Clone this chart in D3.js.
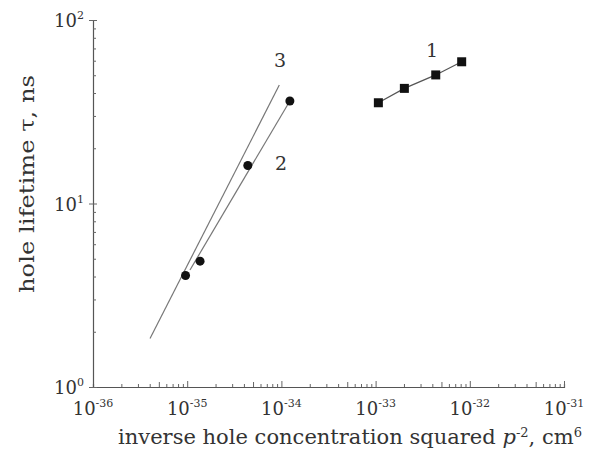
<!DOCTYPE html>
<html>
<head>
<meta charset="utf-8">
<script src="https://cdn.jsdelivr.net/npm/d3@7"></script>
<style>
  body { margin: 0; background: #fff; }
  text { font-family: "DejaVu Serif", "Liberation Serif", serif; fill: #333; }
</style>
</head>
<body>
<script>
// curva 1: cuadrados
const p1_x = [1.07e-33, 2.02e-33, 4.35e-33, 8.2e-33]
const p1_tau = [35.4, 42.4, 50.2, 59.2]
// curva 2: circulos
const p2_x = [9.6e-36, 1.37e-35, 4.4e-35, 1.23e-34]
const p2_tau = [4.05, 4.85, 16.1, 36.2]
// recta 2 (ajuste)
const fit2_x = [1.07e-35, 1.23e-34]
const fit2_tau = [4.34, 36.2]
// recta 3
const fit3_x = [4.03e-36, 9.5e-35]
const fit3_tau = [1.84, 44.2]

const xDecadas = [-36, -35, -34, -33, -32, -31]
const yDecadas = [0, 1, 2]

const width = 593, height = 450

var svg = d3.select("body").append("svg")
    .attr("width", width)
    .attr("height", height)

var x = d3.scaleLog().domain([1e-36, 1e-31]).range([93, 564])
var y = d3.scaleLog().domain([1, 100]).range([387, 20])

// ticks menores
var xTicks = []
for (var k = -36; k < -31; k++) for (var m = 1; m < 10; m++) xTicks.push(m * Math.pow(10, k))
xTicks.push(1e-31)
var yTicks = []
for (var k = 0; k < 2; k++) for (var m = 1; m < 10; m++) yTicks.push(m * Math.pow(10, k))
yTicks.push(100)

function esMayor(v) {
    var l = Math.log10(v)
    return Math.abs(l - Math.round(l)) < 1e-6
}

// EJE X
var gx = svg.append("g")
    .attr("transform", "translate(0," + y(1) + ")")
    .call(d3.axisBottom(x).tickValues(xTicks).tickSize(-3).tickFormat(""))
gx.select(".domain").attr("stroke", "#555").attr("stroke-width", 1.2)
gx.selectAll(".tick line").attr("stroke", "#666")
    .attr("y2", d => esMayor(d) ? -6 : (Math.round(d / Math.pow(10, Math.floor(Math.log10(d) + 1e-9))) == 5 ? -5 : -3))

// EJE Y
var gy = svg.append("g")
    .attr("transform", "translate(" + x(1e-36) + ",0)")
    .call(d3.axisLeft(y).tickValues(yTicks).tickSize(-3).tickFormat(""))
gy.select(".domain").attr("stroke", "#555").attr("stroke-width", 1.2)
gy.selectAll(".tick line").attr("stroke", "#666")
    .attr("x1", d => esMayor(d) ? -4 : 0)
    .attr("x2", d => esMayor(d) ? 4 : 3)

// etiquetas de potencias
function potencia(g, px, py, exp, anchor) {
    var t = g.append("text")
        .attr("x", px).attr("y", py)
        .attr("text-anchor", anchor)
        .style("font-size", "18px")
    t.append("tspan").text("10")
    t.append("tspan").text(exp).attr("dy", -8).style("font-size", "11px")
}
xDecadas.forEach(function(e) {
    potencia(svg, x(Math.pow(10, e)), 415, "-" + Math.abs(e), "middle")
})
yDecadas.forEach(function(e) {
    potencia(svg, 84, y(Math.pow(10, e)) + 7, String(e), "end")
})

// titulos de ejes
var tx = svg.append("text")
    .attr("x", 118).attr("y", 444)
    .attr("textLength", 464)
    .attr("lengthAdjust", "spacingAndGlyphs")
    .style("font-size", "21px")
tx.append("tspan").text("inverse hole concentration squared ")
tx.append("tspan").text("p").style("font-style", "italic")
tx.append("tspan").text("-2").attr("dy", -7).style("font-size", "13px")
tx.append("tspan").text(", cm").attr("dy", 7)
tx.append("tspan").text("6").attr("dy", -7).style("font-size", "13px")

svg.append("text")
    .attr("transform", "translate(34,293) rotate(-90)")
    .attr("textLength", 218)
    .attr("lengthAdjust", "spacingAndGlyphs")
    .style("font-size", "21px")
    .text("hole lifetime  τ, ns")

// lineas
var linea = d3.line().x(d => x(d[0])).y(d => y(d[1]))

svg.append("path")
    .datum(d3.zip(fit3_x, fit3_tau))
    .attr("fill", "none").attr("stroke", "#777").attr("stroke-width", 1.2)
    .attr("d", linea)
svg.append("path")
    .datum(d3.zip(fit2_x, fit2_tau))
    .attr("fill", "none").attr("stroke", "#777").attr("stroke-width", 1.2)
    .attr("d", linea)
svg.append("path")
    .datum(d3.zip(p1_x, p1_tau))
    .attr("fill", "none").attr("stroke", "#555").attr("stroke-width", 1.2)
    .attr("d", linea)

// puntos
svg.append("g").selectAll("rect")
    .data(d3.zip(p1_x, p1_tau))
    .enter().append("rect")
    .attr("x", d => x(d[0]) - 4.5)
    .attr("y", d => y(d[1]) - 4.5)
    .attr("width", 9).attr("height", 9)
    .attr("fill", "#111")

svg.append("g").selectAll("circle")
    .data(d3.zip(p2_x, p2_tau))
    .enter().append("circle")
    .attr("cx", d => x(d[0]))
    .attr("cy", d => y(d[1]))
    .attr("r", 4.5)
    .attr("fill", "#111")

// numeros de curva
svg.append("text").attr("x", 432).attr("y", 57).attr("text-anchor", "middle").style("font-size", "19px").text("1")
svg.append("text").attr("x", 281).attr("y", 170).attr("text-anchor", "middle").style("font-size", "19px").text("2")
svg.append("text").attr("x", 280).attr("y", 67).attr("text-anchor", "middle").style("font-size", "19px").text("3")
</script>
</body>
</html>
